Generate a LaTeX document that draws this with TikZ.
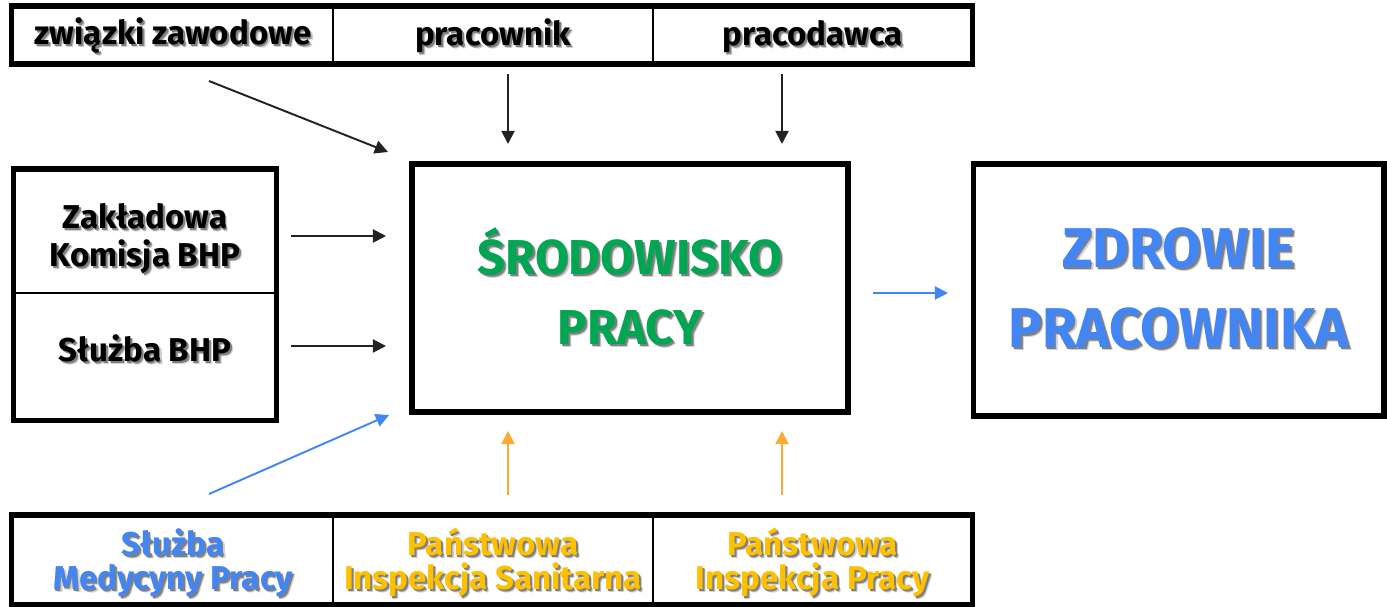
\documentclass[tikz,border=0pt]{standalone}
\usepackage{fontspec}
\setmainfont{Fira Sans}
\usetikzlibrary{positioning,arrows.meta,calc}
\definecolor{greentext}{RGB}{0,166,81}
\definecolor{bluetext}{RGB}{66,133,244}
\definecolor{goldtext}{RGB}{255,192,0}
\definecolor{orangearrow}{RGB}{255,170,50}
\definecolor{darkarrow}{RGB}{34,34,34}
% text with a soft drop shadow
\newcommand{\shtxt}[2]{\makebox[0pt][l]{\hspace{1.7pt}\raisebox{-1.7pt}{\textcolor{black!18}{#2}}}\makebox[0pt][l]{\hspace{1.1pt}\raisebox{-1.1pt}{\textcolor{black!50}{#2}}}\textcolor{#1}{#2}}
\newcommand{\toppad}[1]{\rule{0pt}{#1}}

\begin{document}
\begin{tikzpicture}[
    x=0.02cm, y=-0.02cm,
    cell/.style={rectangle, draw, line width=1.1pt, inner sep=0pt, align=center, font=\bfseries\fontsize{18.8}{20}\selectfont},
    frame/.style={line width=2.9pt},
    bigbox/.style={rectangle, draw, line width=2.9pt, inner sep=0pt, align=center},
    conn/.style={line width=1.1pt, draw=darkarrow, -{Triangle[length=7.5pt,width=7.5pt]}},
    blueconn/.style={conn, draw=bluetext, fill=bluetext},
    orangeconn/.style={conn, draw=orangearrow, fill=orangearrow}
  ]
\useasboundingbox (0,0) rectangle (1387,607);

% top row
\node[cell, minimum width=6.42cm, minimum height=1.12cm] (zw) at (173,35) {\toppad{0.62cm}\shtxt{black}{związki zawodowe}};
\node[cell, minimum width=6.4cm, minimum height=1.12cm] (pr) at (493,35) {\toppad{0.62cm}\shtxt{black}{pracownik}};
\node[cell, minimum width=6.38cm, minimum height=1.12cm] (pd) at (812.5,35) {\toppad{0.62cm}\shtxt{black}{pracodawca}};
\draw[frame] (zw.north west) rectangle (pd.south east);

% left column
\node[cell, minimum width=5.22cm, minimum height=2.46cm, font=\bfseries\fontsize{18.8}{21.6}\selectfont] (zkb) at (145,231.5) {\toppad{0.86cm}\shtxt{black}{Zakładowa}\\\shtxt{black}{Komisja BHP}};
\node[cell, minimum width=5.22cm, minimum height=2.53cm] (sbhp) at (145,356) {\raisebox{0.32cm}{\shtxt{black}{Służba BHP}}};
\draw[frame] (zkb.north west) rectangle (sbhp.south east);

% main boxes
\node[bigbox, minimum width=8.72cm, minimum height=4.96cm, font=\bfseries\fontsize{27.9}{39.8}\selectfont] (srod) at (630,288) {\shtxt{greentext}{ŚRODOWISKO}\\\shtxt{greentext}{PRACY}};
\node[bigbox, minimum width=8.22cm, minimum height=5.04cm, font=\bfseries\fontsize{31.9}{45.5}\selectfont] (zdr) at (1178.5,290) {\shtxt{bluetext}{ZDROWIE}\\\shtxt{bluetext}{PRACOWNIKA}};

% bottom row
\node[cell, minimum width=6.42cm, minimum height=1.76cm, font=\bfseries\fontsize{18.8}{19.6}\selectfont] (smp) at (173,560) {\toppad{0.7cm}\shtxt{bluetext}{Służba}\\\shtxt{bluetext}{Medycyny Pracy}};
\node[cell, minimum width=6.4cm, minimum height=1.76cm, font=\bfseries\fontsize{18.8}{19.6}\selectfont] (pis) at (493,560) {\toppad{0.7cm}\shtxt{goldtext}{Państwowa}\\\shtxt{goldtext}{Inspekcja Sanitarna}};
\node[cell, minimum width=6.38cm, minimum height=1.76cm, font=\bfseries\fontsize{18.8}{19.6}\selectfont] (pip) at (812.5,560) {\toppad{0.7cm}\shtxt{goldtext}{Państwowa}\\\shtxt{goldtext}{Inspekcja Pracy}};
\draw[frame] (smp.north west) rectangle (pip.south east);

% arrow ends
\coordinate (zwtail) at (209,81);
\coordinate (zwhead) at (388,152);
\coordinate (prtail) at (508,74);
\coordinate (prhead) at (508,144);
\coordinate (pdtail) at (782,74);
\coordinate (pdhead) at (782,144);
\coordinate (zkbtail) at (291,236);
\coordinate (zkbhead) at (386,236);
\coordinate (sbhptail) at (291,346);
\coordinate (sbhphead) at (386,346);
\coordinate (srodtail) at (873,293);
\coordinate (zdrhead) at (948,293);
\coordinate (smptail) at (209,494);
\coordinate (smphead) at (389,415);
\coordinate (pistail) at (508,495);
\coordinate (pishead) at (508,431);
\coordinate (piptail) at (782,495);
\coordinate (piphead) at (782,431);

\draw[conn] (zwtail) -- (zwhead);
\draw[conn] (prtail) -- (prhead);
\draw[conn] (pdtail) -- (pdhead);
\draw[conn] (zkbtail) -- (zkbhead);
\draw[conn] (sbhptail) -- (sbhphead);
\draw[blueconn] (srodtail) -- (zdrhead);
\draw[blueconn] (smptail) -- (smphead);
\draw[orangeconn] (pistail) -- (pishead);
\draw[orangeconn] (piptail) -- (piphead);

\end{tikzpicture}
\end{document}
